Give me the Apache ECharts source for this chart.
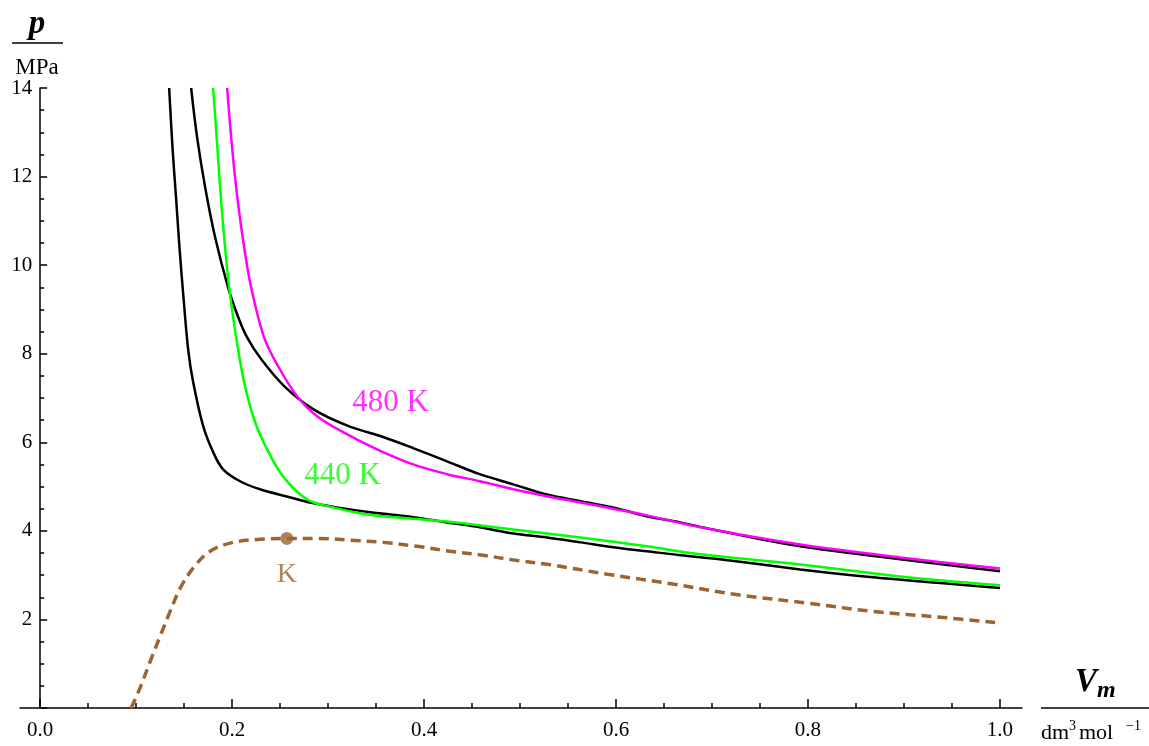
<!DOCTYPE html>
<html>
<head>
<meta charset="utf-8">
<script src="https://cdn.jsdelivr.net/npm/echarts@6/dist/echarts.min.js"></script>
<style>
  html, body { margin: 0; padding: 0; background: #fff; }
  #chart { width: 1149px; height: 746px; }
</style>
</head>
<body>
<div id="chart"></div>
<script>
// isotherms p(Vm)
const vmBlackLow = [0.1344, 0.138, 0.1417, 0.1453, 0.1495, 0.1542, 0.1594, 0.1698, 0.1802, 0.1906, 0.2083, 0.229, 0.260, 0.281, 0.309, 0.344, 0.389, 0.424, 0.458, 0.493, 0.528, 0.563, 0.597, 0.632, 0.667, 0.708, 0.792, 0.868, 0.938, 1.0];
const pBlackLow = [14.0, 12.62, 11.49, 10.36, 9.23, 8.10, 7.36, 6.37, 5.78, 5.39, 5.12, 4.94, 4.76, 4.64, 4.53, 4.42, 4.31, 4.19, 4.08, 3.94, 3.85, 3.74, 3.63, 3.54, 3.45, 3.36, 3.13, 2.95, 2.82, 2.71];

const vmBlackHigh = [0.1573, 0.1635, 0.1719, 0.1823, 0.1958, 0.2063, 0.2156, 0.2302, 0.2542, 0.2844, 0.3208, 0.3573, 0.3885, 0.424, 0.458, 0.493, 0.528, 0.563, 0.597, 0.632, 0.667, 0.701, 0.792, 0.896, 1.0];
const pBlackHigh = [14.0, 12.89, 11.76, 10.63, 9.50, 8.83, 8.37, 7.88, 7.27, 6.75, 6.37, 6.12, 5.87, 5.57, 5.28, 5.05, 4.82, 4.67, 4.53, 4.33, 4.19, 4.03, 3.65, 3.36, 3.09];

const vm440 = [0.1802, 0.1839, 0.1875, 0.1917, 0.1969, 0.2042, 0.2125, 0.2229, 0.2365, 0.2531, 0.278, 0.305, 0.341, 0.385, 0.424, 0.493, 0.563, 0.632, 0.688, 0.792, 0.896, 1.0];
const p440 = [14.0, 12.89, 11.76, 10.63, 9.50, 8.37, 7.36, 6.52, 5.84, 5.23, 4.71, 4.53, 4.37, 4.28, 4.21, 4.03, 3.85, 3.65, 3.47, 3.24, 2.97, 2.77];

const vm480 = [0.1948, 0.199, 0.2042, 0.211, 0.2198, 0.2333, 0.2479, 0.2677, 0.2885, 0.3156, 0.351, 0.3885, 0.424, 0.458, 0.493, 0.528, 0.563, 0.597, 0.632, 0.688, 0.792, 0.896, 1.0];
const p480 = [14.0, 12.89, 11.76, 10.63, 9.50, 8.37, 7.72, 7.04, 6.59, 6.23, 5.84, 5.50, 5.28, 5.12, 4.94, 4.78, 4.64, 4.50, 4.35, 4.08, 3.69, 3.40, 3.15];

// coexistence boundary (dashed) and critical point
const vmBound = [0.0948, 0.1042, 0.1146, 0.125, 0.1354, 0.1458, 0.1594, 0.1771, 0.201, 0.229, 0.257, 0.289, 0.323, 0.357, 0.393, 0.427, 0.461, 0.497, 0.530, 0.591, 0.659, 0.729, 0.799, 0.868, 0.938, 0.995];
const pBound = [0, 0.46, 1.05, 1.62, 2.18, 2.70, 3.16, 3.54, 3.74, 3.81, 3.83, 3.83, 3.79, 3.74, 3.65, 3.54, 3.45, 3.33, 3.24, 3.02, 2.80, 2.55, 2.37, 2.18, 2.05, 1.93];
const critPoint = [0.257, 3.83];

// isotherm labels
const tempLabels = ['480 K', '440 K'];
const tempLabelVm = [0.365, 0.315];
const tempLabelP = [6.90, 5.25];

// ticks
const xMajor = [0, 0.2, 0.4, 0.6, 0.8, 1.0];
const xMinor = [0.05, 0.1, 0.15, 0.25, 0.3, 0.35, 0.45, 0.5, 0.55, 0.65, 0.7, 0.75, 0.85, 0.9, 0.95];

const serif = '"Liberation Serif", "DejaVu Serif", serif';
const BROWN = '#996633';

const pairs = (v, p) => v.map((x, i) => [x, p[i]]);

function curve(name, v, p, color) {
  return {
    name: name,
    type: 'line',
    data: pairs(v, p),
    showSymbol: false,
    smooth: 0.35,
    lineStyle: { color: color, width: 2.5 },
    z: 3
  };
}

const chart = echarts.init(document.getElementById('chart'));

const X_MIN = -0.021, X_MAX = 1.023;
const GRID_LEFT = 20, GRID_RIGHT = 127;
// shift the y axis from the grid edge to Vm = 0
const yShift = -(1149 - GRID_LEFT - GRID_RIGHT) * (0 - X_MIN) / (X_MAX - X_MIN);

chart.setOption({
  animation: false,
  backgroundColor: '#fff',
  grid: { left: GRID_LEFT, right: GRID_RIGHT, top: 88, bottom: 38, containLabel: false, outerBoundsMode: 'none' },
  xAxis: [{
    type: 'value',
    min: X_MIN,
    max: X_MAX,
    position: 'bottom',
    axisLine: { lineStyle: { color: '#000', width: 1.5 } },
    axisTick: { inside: true, length: 9, customValues: xMajor, lineStyle: { color: '#000', width: 1.5 } },
    axisLabel: {
      customValues: xMajor,
      formatter: v => v.toFixed(1),
      color: '#000', fontFamily: serif, fontSize: 21, margin: 12
    },
    splitLine: { show: false }
  }, {
    type: 'value',
    min: X_MIN,
    max: X_MAX,
    position: 'bottom',
    axisLine: { show: false },
    axisTick: { inside: true, length: 5, customValues: xMinor, lineStyle: { color: '#000', width: 1.5 } },
    axisLabel: { show: false },
    splitLine: { show: false }
  }],
  yAxis: {
    type: 'value',
    min: 0,
    max: 14,
    interval: 2,
    position: 'left',
    offset: yShift,
    axisLine: { onZero: false, lineStyle: { color: '#000', width: 1.5 } },
    axisTick: { inside: true, length: 7, lineStyle: { color: '#000', width: 1.5 } },
    minorTick: { show: true, splitNumber: 4, length: 4, lineStyle: { color: '#000', width: 1.5 } },
    axisLabel: {
      formatter: v => (v === 0 ? '' : String(v)),
      color: '#000', fontFamily: serif, fontSize: 21, margin: 8
    },
    splitLine: { show: false }
  },
  series: [
    curve('black low', vmBlackLow, pBlackLow, '#000'),
    curve('black high', vmBlackHigh, pBlackHigh, '#000'),
    curve('440 K', vm440, p440, '#00ff00'),
    curve('480 K', vm480, p480, '#ff00ff'),
    {
      name: 'boundary',
      type: 'line',
      data: pairs(vmBound, pBound),
      showSymbol: false,
      smooth: 0.35,
      lineStyle: { color: BROWN, width: 3.5, type: [10, 6] },
      z: 4
    },
    {
      name: 'K',
      type: 'scatter',
      data: [critPoint],
      symbolSize: 13,
      itemStyle: { color: BROWN },
      label: {
        show: true, position: 'bottom', distance: 16,
        formatter: 'K', color: BROWN, fontFamily: serif, fontSize: 28
      },
      z: 5
    },
    {
      name: 'labels',
      type: 'scatter',
      symbolSize: 0,
      data: tempLabels.map((t, i) => ({
        value: [tempLabelVm[i], tempLabelP[i]],
        label: { color: i === 0 ? '#ff00ff' : '#00ff00' }
      })),
      label: {
        show: true, position: 'inside',
        formatter: p => tempLabels[p.dataIndex],
        fontFamily: serif, fontSize: 31
      },
      z: 6
    }
  ],
  graphic: [
    { type: 'text', x: 37, y: 24, style: { text: 'p', font: 'italic bold 33px ' + serif, fill: '#000', align: 'center', verticalAlign: 'middle' } },
    { type: 'line', shape: { x1: 12, y1: 43, x2: 63, y2: 43 }, style: { stroke: '#000', lineWidth: 1.5 } },
    { type: 'text', x: 37, y: 68, style: { text: 'MPa', font: '23px ' + serif, fill: '#000', align: 'center', verticalAlign: 'middle' } },

    { type: 'text', x: 1075, y: 682, style: { text: 'V', font: 'italic bold 33px ' + serif, fill: '#000', align: 'left', verticalAlign: 'middle' } },
    { type: 'text', x: 1097, y: 691, style: { text: 'm', font: 'italic bold 24px ' + serif, fill: '#000', align: 'left', verticalAlign: 'middle' } },
    { type: 'line', shape: { x1: 1041, y1: 708, x2: 1149, y2: 708 }, style: { stroke: '#000', lineWidth: 1.5 } },
    { type: 'text', x: 1041, y: 733, style: { text: 'dm', font: '22px ' + serif, fill: '#000', align: 'left', verticalAlign: 'middle' } },
    { type: 'text', x: 1069, y: 726, style: { text: '3', font: '14px ' + serif, fill: '#000', align: 'left', verticalAlign: 'middle' } },
    { type: 'text', x: 1079, y: 733, style: { text: 'mol', font: '22px ' + serif, fill: '#000', align: 'left', verticalAlign: 'middle' } },
    { type: 'text', x: 1126, y: 726, style: { text: '−1', font: '14px ' + serif, fill: '#000', align: 'left', verticalAlign: 'middle' } }
  ]
});
</script>
</body>
</html>
